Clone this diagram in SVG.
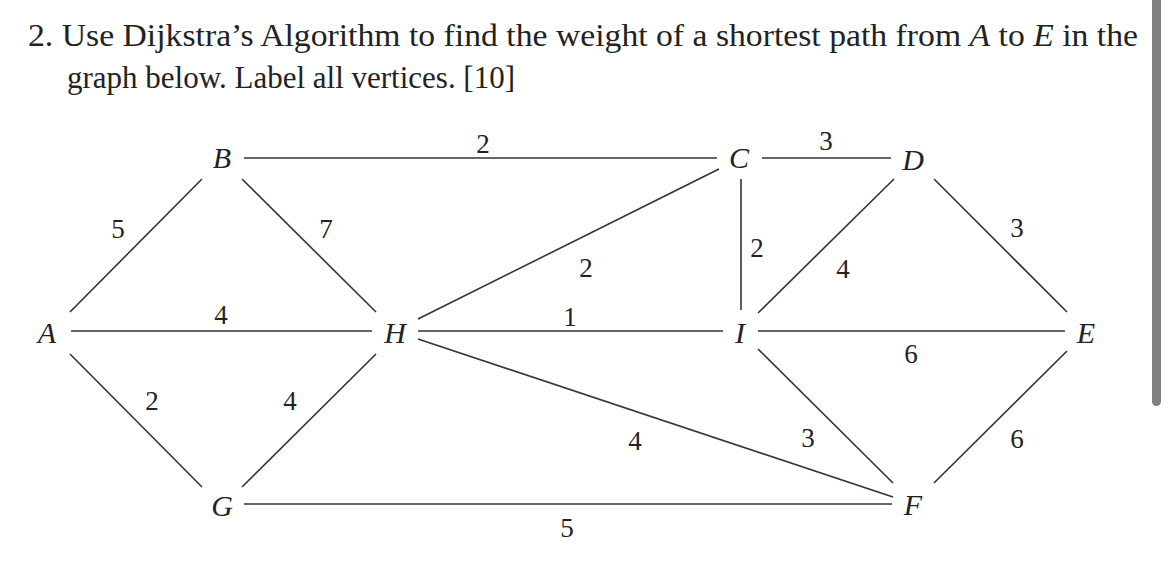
<svg xmlns="http://www.w3.org/2000/svg" width="1170" height="583" viewBox="0 0 1170 583">
<style>
.t{font-family:"Liberation Serif","DejaVu Serif",serif;font-size:31px;fill:#222}
.n{font-family:"Liberation Serif","DejaVu Serif",serif;font-style:italic;font-size:30px;fill:#222;text-anchor:middle}
.w{font-family:"Liberation Serif","DejaVu Serif",serif;font-size:27px;fill:#222;text-anchor:middle}
.e line{stroke:#333;stroke-width:1.6}
</style>
<rect width="1170" height="583" fill="#fff"/>
<text class="t" x="28" y="46" textLength="1110" lengthAdjust="spacingAndGlyphs">2. Use Dijkstra’s Algorithm to find the weight of a shortest path from <tspan font-style="italic">A</tspan> to <tspan font-style="italic">E</tspan> in the</text>
<text class="t" x="67" y="88" textLength="448" lengthAdjust="spacingAndGlyphs">graph below. Label all vertices. [10]</text>
<rect x="1152" y="-10" width="9" height="416" rx="4.5" fill="#808080"/>
<g id="edges" class="e">
<line x1="70" y1="312" x2="202" y2="179"/>
<line x1="242" y1="179" x2="376" y2="312"/>
<line x1="71" y1="331" x2="372" y2="331"/>
<line x1="70" y1="354" x2="202" y2="487"/>
<line x1="376" y1="354" x2="242" y2="487"/>
<line x1="244" y1="158" x2="717" y2="158"/>
<line x1="418" y1="319" x2="719" y2="169"/>
<line x1="418" y1="331" x2="723" y2="331"/>
<line x1="418" y1="339" x2="893" y2="497"/>
<line x1="244" y1="504" x2="892" y2="504"/>
<line x1="741" y1="179" x2="741" y2="310"/>
<line x1="762" y1="158" x2="891" y2="158"/>
<line x1="894" y1="179" x2="758" y2="313"/>
<line x1="934" y1="179" x2="1067" y2="312"/>
<line x1="758" y1="331" x2="1065" y2="331"/>
<line x1="758" y1="349" x2="893" y2="483"/>
<line x1="1067" y1="351" x2="934" y2="483"/>
</g>
<g id="labels">
<text class="w" x="118" y="238">5</text>
<text class="w" x="326" y="238">7</text>
<text class="w" x="221" y="324">4</text>
<text class="w" x="152" y="410">2</text>
<text class="w" x="290" y="410">4</text>
<text class="w" x="483" y="153">2</text>
<text class="w" x="586" y="277">2</text>
<text class="w" x="570" y="326">1</text>
<text class="w" x="635" y="450">4</text>
<text class="w" x="567" y="537">5</text>
<text class="w" x="757" y="257">2</text>
<text class="w" x="826" y="150">3</text>
<text class="w" x="843" y="278">4</text>
<text class="w" x="1017" y="237">3</text>
<text class="w" x="911" y="363">6</text>
<text class="w" x="808" y="447">3</text>
<text class="w" x="1017" y="448">6</text>
</g>
<g id="node-A"><text class="n" x="47" y="343">A</text></g>
<g id="node-B"><text class="n" x="222" y="168">B</text></g>
<g id="node-C"><text class="n" x="739" y="168">C</text></g>
<g id="node-D"><text class="n" x="913" y="170">D</text></g>
<g id="node-E"><text class="n" x="1086" y="343">E</text></g>
<g id="node-F"><text class="n" x="913" y="515">F</text></g>
<g id="node-G"><text class="n" x="222" y="516">G</text></g>
<g id="node-H"><text class="n" x="395" y="343">H</text></g>
<g id="node-I"><text class="n" x="740" y="343">I</text></g>
</svg>
